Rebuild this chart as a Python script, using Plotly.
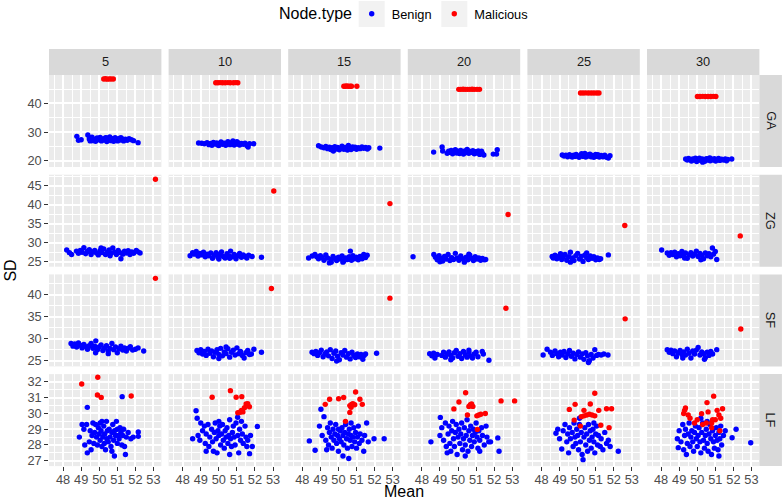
import plotly.graph_objects as go

WINDOWS = [5, 10, 15, 20, 25, 30]
METHODS = ["GA", "ZG", "SF", "LF"]
NODE_TYPES = ["Benign", "Malicious"]
X_TITLE = "Mean"
Y_TITLE = "SD"
LEGEND_TITLE = "Node.type"

# ---------------- data (Mean, SD) ----------------
GA_BENIGN = {
    5: [(48.76,28.5),(48.85,27.1),(49.0,27.3),(49.37,29.0),(49.45,27.6),(49.5,26.9),(49.6,28.2),(49.7,27.4),(49.8,26.8),(49.88,27.9),(49.95,27.3),(50.05,28.1),(50.12,26.9),(50.2,27.6),(50.28,27.2),(50.35,28.0),(50.42,26.7),(50.5,27.5),(50.58,28.3),(50.65,27.0),(50.72,27.7),(50.8,26.8),(50.88,28.0),(50.95,27.3),(51.02,26.9),(51.1,27.8),(51.18,27.2),(51.27,27.6),(51.35,26.9),(51.45,27.5),(51.55,27.1),(51.65,27.7),(51.78,27.3),(51.9,27.0),(52.15,26.3),(49.65,27.0),(50.4,27.9),(50.9,27.1),(51.2,28.0),(50.0,27.5)],
    10: [(48.88,26.2),(49.05,26.1),(49.2,25.9),(49.35,26.3),(49.45,25.6),(49.55,26.0),(49.62,25.4),(49.7,26.4),(49.8,25.8),(49.88,26.2),(49.95,25.5),(50.05,26.0),(50.12,26.5),(50.2,25.7),(50.3,26.1),(50.38,25.4),(50.45,25.9),(50.55,26.4),(50.62,25.6),(50.7,26.1),(50.78,26.9),(50.85,25.5),(50.92,26.3),(51.0,25.8),(51.08,26.2),(51.15,25.5),(51.25,26.0),(51.35,25.7),(51.45,26.1),(51.55,25.3),(51.62,24.8),(51.7,25.9),(51.93,25.9),(50.5,26.6),(50.0,25.3),(51.0,26.6)],
    15: [(48.9,25.2),(49.05,24.8),(49.2,24.5),(49.3,25.0),(49.4,24.2),(49.5,24.7),(49.58,23.9),(49.65,24.5),(49.72,23.4),(49.8,24.9),(49.88,24.1),(49.95,24.6),(50.05,23.8),(50.12,24.4),(50.2,25.1),(50.3,24.0),(50.38,24.6),(50.45,24.2),(50.55,25.3),(50.62,24.4),(50.7,23.9),(50.78,24.8),(50.85,24.3),(50.92,24.7),(51.0,24.0),(51.1,24.5),(51.2,24.2),(51.3,24.8),(51.4,24.3),(51.5,24.6),(51.6,24.1),(51.68,24.5),(52.29,24.4),(50.0,24.4),(50.5,23.7)],
    20: [(48.65,23.0),(49.12,24.8),(49.15,23.4),(49.4,22.6),(49.48,23.3),(49.55,22.9),(49.62,23.6),(49.7,22.4),(49.78,23.1),(49.85,23.8),(49.92,22.7),(50.0,23.3),(50.08,22.5),(50.15,23.6),(50.22,23.0),(50.3,22.3),(50.38,23.4),(50.45,22.8),(50.52,23.7),(50.6,22.6),(50.68,23.2),(50.75,22.9),(50.82,23.5),(50.9,22.4),(50.98,23.1),(51.05,22.7),(51.12,23.4),(51.2,22.2),(51.28,22.9),(51.35,22.5),(51.43,22.0),(51.95,22.3),(52.17,23.8),(52.13,22.3),(50.5,23.9),(51.3,23.3)],
    25: [(49.15,22.0),(49.25,21.6),(49.35,21.9),(49.45,21.4),(49.55,22.1),(49.62,21.7),(49.7,21.3),(49.78,21.9),(49.85,21.5),(49.92,22.2),(50.0,21.6),(50.08,21.2),(50.15,21.8),(50.22,22.4),(50.3,21.5),(50.38,21.9),(50.45,21.3),(50.52,22.0),(50.6,21.6),(50.68,22.3),(50.75,21.4),(50.82,21.8),(50.9,21.2),(50.98,21.9),(51.05,21.5),(51.12,22.1),(51.2,21.3),(51.3,21.8),(51.4,21.4),(51.5,21.9),(51.6,21.2),(51.7,20.9),(51.79,21.7),(50.4,22.5),(51.0,22.2)],
    30: [(49.36,20.6),(49.45,20.2),(49.52,20.8),(49.6,20.4),(49.68,19.9),(49.75,20.6),(49.82,20.2),(49.9,20.9),(49.97,19.7),(50.05,20.4),(50.12,20.9),(50.2,20.1),(50.28,20.6),(50.35,20.3),(50.42,19.8),(50.5,20.7),(50.58,20.2),(50.65,20.8),(50.72,20.0),(50.8,20.5),(50.88,20.2),(50.95,20.7),(51.02,19.9),(51.1,20.4),(51.18,20.8),(51.25,20.1),(51.35,20.5),(51.45,20.2),(51.55,20.6),(51.62,20.0),(51.68,20.4),(51.91,20.6),(50.3,19.5),(50.7,21.0)],
}
GA_MALICIOUS = {
    5: [(50.25,48.5),(50.35,48.6),(50.45,48.45),(50.55,48.55),(50.65,48.5),(50.78,48.5)],
    10: [(49.83,47.2),(49.95,47.2),(50.07,47.25),(50.2,47.2),(50.35,47.2),(50.5,47.25),(50.63,47.2),(50.81,47.2),(50.94,47.25),(51.05,47.2)],
    15: [(50.3,46.0),(50.38,46.0),(50.46,46.05),(50.55,46.0),(50.65,46.0),(50.72,46.0),(51.02,46.0)],
    20: [(50.04,44.9),(50.15,44.9),(50.28,44.95),(50.4,44.9),(50.52,44.9),(50.65,44.9),(50.78,44.95),(50.9,44.9),(51.05,44.9),(51.19,44.9)],
    25: [(50.16,43.6),(50.3,43.6),(50.45,43.65),(50.6,43.6),(50.75,43.6),(50.9,43.6),(51.05,43.6),(51.18,43.6)],
    30: [(50.01,42.4),(50.15,42.4),(50.3,42.45),(50.45,42.4),(50.6,42.4),(50.75,42.4),(50.9,42.45),(51.03,42.4)],
}
ZG_BENIGN = {
    5: [(48.2,28.1),(48.47,26.9),(48.35,27.4),(48.74,27.8),(48.85,27.2),(48.95,28.0),(49.05,27.5),(49.15,28.7),(49.25,27.1),(49.35,27.7),(49.45,28.2),(49.55,26.9),(49.65,27.6),(49.75,28.0),(49.85,27.3),(49.95,26.8),(50.05,27.9),(50.15,27.4),(50.25,28.4),(50.35,26.9),(50.45,27.6),(50.55,28.1),(50.65,27.2),(50.75,28.6),(50.85,27.5),(50.95,26.9),(51.05,28.0),(51.15,27.4),(51.2,25.8),(51.3,27.0),(51.4,27.8),(51.5,27.3),(51.6,27.9),(51.7,26.9),(51.8,27.6),(51.9,27.2),(52.05,28.0),(52.15,27.6),(52.26,27.3),(50.6,26.6),(50.1,28.6)],
    10: [(48.41,26.6),(48.55,27.4),(48.65,27.0),(48.75,27.7),(48.85,26.5),(48.95,27.2),(49.05,26.8),(49.15,27.5),(49.25,26.3),(49.35,27.0),(49.45,26.6),(49.55,27.3),(49.65,25.9),(49.75,26.8),(49.85,27.4),(49.95,26.2),(50.05,26.9),(50.15,27.6),(50.25,26.4),(50.35,26.0),(50.45,27.1),(50.55,26.5),(50.65,27.8),(50.75,26.3),(50.85,26.9),(50.95,25.8),(51.05,26.6),(51.15,27.2),(51.25,26.2),(51.35,26.8),(51.45,26.4),(51.55,26.0),(51.65,26.7),(51.84,26.4),(52.36,26.2),(50.0,25.7),(50.6,25.9)],
    15: [(48.35,26.0),(48.55,26.5),(48.7,26.9),(48.8,26.3),(48.9,25.8),(49.0,26.6),(49.1,26.1),(49.2,25.4),(49.3,26.8),(49.4,26.0),(49.5,24.7),(49.6,25.6),(49.7,26.4),(49.8,25.9),(49.9,25.3),(50.0,26.2),(50.1,25.7),(50.2,26.5),(50.3,25.2),(50.4,26.0),(50.5,25.6),(50.6,26.3),(50.66,27.8),(50.72,25.4),(50.8,26.6),(50.9,25.8),(51.0,26.2),(51.1,25.5),(51.2,26.4),(51.31,25.8),(51.4,26.9),(51.5,26.1),(51.59,26.7),(49.6,24.9),(50.25,24.9)],
    20: [(47.51,26.3),(48.66,26.9),(48.75,26.2),(48.85,25.5),(48.95,26.6),(49.05,25.9),(49.15,25.2),(49.25,26.4),(49.35,25.7),(49.45,26.9),(49.55,25.3),(49.65,26.1),(49.75,25.6),(49.85,27.2),(49.95,26.0),(50.05,25.4),(50.15,26.5),(50.25,25.8),(50.35,24.9),(50.45,26.2),(50.55,25.5),(50.65,26.7),(50.75,25.9),(50.85,25.3),(50.95,26.3),(51.05,25.7),(51.15,26.0),(51.25,25.4),(51.35,25.9),(51.45,25.5),(51.53,25.6),(49.0,25.0),(50.6,27.0)],
    25: [(48.59,26.4),(48.65,26.0),(48.75,26.7),(48.85,25.8),(48.95,26.4),(49.05,27.1),(49.12,25.6),(49.2,26.2),(49.3,26.9),(49.4,25.4),(49.5,26.3),(49.6,27.5),(49.7,26.0),(49.8,25.3),(49.9,26.6),(50.0,27.2),(50.1,25.7),(50.2,26.4),(50.3,25.1),(50.4,26.8),(50.5,26.1),(50.6,25.6),(50.7,26.5),(50.8,25.9),(50.9,26.3),(51.0,25.5),(51.1,26.0),(51.2,25.6),(51.27,25.8),(51.7,26.8),(49.6,24.9),(50.5,27.3)],
    30: [(48.03,28.1),(48.34,27.3),(48.45,26.7),(48.55,27.4),(48.65,26.9),(48.75,27.5),(48.85,26.3),(48.95,27.1),(49.05,26.6),(49.15,27.7),(49.25,26.9),(49.35,27.3),(49.45,25.9),(49.55,26.8),(49.65,27.4),(49.75,26.5),(49.85,27.0),(49.95,27.8),(50.05,26.4),(50.15,27.2),(50.25,26.7),(50.35,25.8),(50.45,27.3),(50.55,26.6),(50.65,27.1),(50.75,26.3),(50.84,28.6),(50.9,27.0),(51.0,27.7),(51.08,25.6),(49.3,26.0),(50.2,25.5)],
}
ZG_MALICIOUS = {5: [(53.11,46.7)], 10: [(53.04,43.6)], 15: [(52.85,40.3)],
                20: [(52.77,37.45)], 25: [(52.61,34.55)], 30: [(52.38,31.8)]}
SF_BENIGN = {
    5: [(48.44,28.9),(48.55,28.3),(48.65,28.8),(48.75,28.1),(48.85,29.0),(48.95,28.5),(49.05,27.9),(49.15,28.7),(49.25,28.2),(49.35,27.6),(49.45,28.4),(49.55,28.9),(49.65,27.8),(49.75,28.3),(49.81,29.5),(49.9,27.5),(50.0,28.1),(50.1,28.6),(50.2,27.3),(50.3,27.9),(50.4,28.4),(50.5,27.2),(50.6,27.8),(50.7,28.9),(50.8,27.5),(50.9,28.1),(51.0,26.8),(51.1,27.7),(51.2,28.3),(51.3,27.4),(51.4,27.9),(51.5,27.2),(51.6,27.8),(51.72,28.2),(51.85,27.4),(52.0,27.6),(52.15,27.9),(52.46,27.2),(50.5,26.6),(49.8,26.8)],
    10: [(48.79,27.3),(48.9,26.8),(49.0,27.5),(49.1,26.5),(49.2,27.1),(49.3,26.2),(49.4,27.6),(49.5,26.7),(49.6,27.2),(49.7,25.9),(49.8,26.9),(49.9,27.5),(50.0,26.4),(50.1,27.8),(50.2,26.1),(50.3,27.0),(50.4,26.6),(50.5,27.7),(50.6,25.8),(50.7,26.9),(50.8,27.4),(50.9,26.3),(51.0,27.9),(51.1,26.6),(51.2,27.1),(51.3,26.2),(51.4,25.6),(51.5,26.8),(51.6,27.3),(51.7,26.4),(51.8,26.5),(51.94,27.6),(52.36,26.9),(50.0,25.5),(50.4,28.1)],
    15: [(48.54,26.9),(48.65,26.6),(48.75,27.1),(48.85,26.2),(48.95,26.8),(49.05,27.4),(49.15,25.9),(49.25,26.5),(49.35,27.0),(49.45,26.1),(49.55,27.5),(49.65,25.5),(49.75,26.7),(49.85,27.2),(49.95,26.0),(50.05,25.2),(50.15,26.8),(50.25,26.3),(50.35,27.3),(50.45,25.8),(50.55,26.6),(50.65,25.4),(50.75,26.9),(50.85,26.2),(50.95,25.7),(51.05,26.5),(51.15,25.9),(51.25,26.4),(51.35,25.3),(51.42,26.2),(51.5,26.5),(52.11,26.7),(49.9,24.9)],
    20: [(48.43,26.6),(48.55,26.1),(48.65,26.7),(48.72,25.6),(48.85,26.4),(49.1,26.2),(49.2,26.9),(49.3,25.8),(49.4,26.5),(49.5,27.0),(49.6,26.2),(49.7,25.6),(49.8,26.8),(49.9,27.3),(50.0,26.0),(50.1,26.6),(50.2,25.5),(50.3,27.1),(50.4,26.3),(50.5,25.8),(50.6,26.9),(50.7,26.1),(50.8,25.6),(50.9,26.5),(51.0,26.9),(51.1,25.9),(51.34,27.1),(51.4,26.5),(51.71,25.1),(49.6,25.2),(50.6,27.4)],
    25: [(48.09,26.3),(48.31,27.6),(48.5,26.9),(48.6,26.2),(48.75,27.2),(48.85,26.6),(48.95,25.9),(49.05,26.9),(49.15,26.3),(49.25,27.1),(49.35,25.7),(49.45,26.5),(49.55,27.3),(49.65,26.0),(49.75,26.7),(49.85,25.4),(49.95,26.4),(50.05,27.0),(50.15,25.8),(50.25,26.5),(50.35,25.3),(50.45,26.8),(50.55,26.1),(50.65,25.0),(50.75,26.4),(50.85,25.6),(50.95,27.5),(51.05,26.2),(51.15,26.4),(51.3,26.3),(51.45,26.5),(51.68,26.3),(50.6,24.6)],
    30: [(48.34,27.5),(48.45,26.9),(48.55,27.4),(48.65,26.6),(48.75,27.2),(48.85,25.9),(48.95,26.8),(49.05,27.3),(49.15,26.4),(49.25,27.0),(49.35,26.3),(49.45,27.6),(49.55,26.7),(49.65,25.6),(49.75,27.2),(49.85,26.5),(49.95,27.4),(50.05,28.0),(50.15,26.3),(50.25,27.0),(50.35,26.6),(50.45,25.7),(50.55,26.9),(50.65,26.2),(50.75,27.1),(50.85,26.5),(51.08,27.5),(50.4,25.3),(49.2,25.6)],
}
SF_MALICIOUS = {5: [(53.11,43.7)], 10: [(52.91,41.4)], 15: [(52.85,39.2)],
                20: [(52.65,36.9)], 25: [(52.63,34.5)], 30: [(52.41,32.2)]}
LF_BENIGN = {
    5: [(48.9,28.5),(49.05,29.3),(49.15,29.0),(49.2,28.0),(49.34,30.39),(49.3,29.3),(49.34,27.5),(49.45,28.2),(49.5,28.9),(49.6,28.6),(49.65,29.4),(49.7,28.1),(49.75,28.8),(49.8,29.3),(49.85,28.5),(49.9,28.0),(49.95,29.1),(50.0,28.7),(50.05,28.3),(50.05,29.4),(50.1,28.9),(50.15,27.9),(50.2,28.5),(50.25,29.2),(50.28,28.1),(50.3,28.7),(50.35,27.7),(50.4,29.5),(50.42,28.4),(50.45,28.9),(50.5,28.2),(50.55,29.0),(50.6,28.5),(50.65,27.9),(50.7,28.8),(50.75,29.3),(50.8,28.3),(50.84,27.3),(50.85,28.9),(50.9,28.6),(50.95,29.5),(51.0,28.1),(51.0,29.0),(51.05,28.6),(51.1,28.4),(51.15,29.1),(51.2,28.8),(51.25,28.0),(51.3,28.6),(51.27,31.07),(51.35,29.0),(51.45,27.4),(51.5,28.5),(51.6,28.8),(51.75,28.4),(51.88,28.5),(52.16,28.83),(52.16,28.55),(49.55,27.7),(50.15,29.5),(50.7,27.6),(51.4,27.9)],
    10: [(48.55,28.4),(48.74,30.17),(48.8,29.7),(48.85,28.6),(48.95,28.3),(49.0,29.4),(49.1,28.9),(49.2,29.2),(49.25,28.1),(49.3,28.7),(49.4,29.3),(49.45,27.9),(49.5,28.5),(49.6,29.0),(49.65,28.2),(49.7,27.6),(49.75,28.8),(49.8,29.4),(49.85,28.4),(49.9,27.5),(49.95,28.9),(50.0,28.6),(50.05,29.2),(50.1,28.0),(50.15,28.7),(50.2,29.3),(50.25,28.3),(50.3,27.8),(50.35,28.9),(50.4,28.5),(50.45,29.1),(50.5,28.1),(50.55,28.6),(50.6,29.6),(50.65,28.4),(50.7,27.9),(50.75,28.8),(50.8,29.2),(50.85,28.5),(50.9,28.0),(50.95,29.4),(51.04,29.76),(51.05,28.6),(51.1,27.5),(51.15,29.0),(51.2,28.3),(51.25,29.5),(51.3,28.7),(51.35,28.1),(51.45,29.2),(51.5,28.5),(51.55,27.9),(51.6,28.3),(51.7,27.45),(51.75,28.6),(51.85,27.9),(52.13,29.17),(49.3,27.6),(50.6,27.4),(50.0,29.5)],
    15: [(48.39,28.26),(48.71,27.67),(49.03,30.27),(48.95,29.2),(49.1,28.6),(49.2,29.8),(49.3,28.3),(49.4,29.1),(49.45,28.0),(49.5,28.8),(49.55,29.4),(49.6,28.5),(49.65,27.8),(49.7,29.0),(49.75,28.3),(49.8,28.7),(49.85,29.3),(49.9,28.1),(49.95,28.6),(50.0,29.0),(50.0,27.6),(50.05,28.4),(50.1,28.9),(50.15,28.2),(50.2,29.1),(50.25,28.6),(50.3,28.0),(50.35,28.8),(50.4,29.3),(50.45,28.4),(50.5,27.8),(50.55,28.7),(50.57,27.14),(50.6,29.0),(50.65,28.3),(50.7,28.6),(50.75,27.9),(50.8,28.5),(50.85,29.1),(50.9,28.2),(50.95,28.8),(51.0,27.8),(51.05,28.5),(51.1,29.2),(51.15,28.1),(51.2,28.7),(51.3,28.3),(51.4,27.6),(51.45,28.6),(51.56,29.4),(51.65,28.2),(51.97,28.4),(52.53,28.4),(49.35,27.7),(50.25,27.3),(50.7,29.4)],
    20: [(48.5,28.2),(49.02,29.75),(49.0,28.6),(49.1,29.1),(49.2,28.3),(49.3,29.4),(49.35,27.9),(49.45,28.7),(49.5,29.2),(49.55,28.1),(49.6,27.6),(49.65,28.9),(49.7,29.5),(49.75,28.4),(49.8,27.9),(49.85,28.8),(49.9,29.3),(49.95,27.4),(50.0,28.5),(50.05,29.0),(50.1,28.1),(50.15,28.7),(50.2,29.4),(50.25,27.7),(50.3,28.4),(50.35,29.1),(50.4,28.0),(50.45,28.6),(50.5,29.6),(50.55,27.6),(50.6,28.9),(50.65,28.3),(50.7,29.2),(50.75,27.9),(50.8,28.6),(50.85,29.0),(50.9,28.2),(50.95,28.8),(51.0,29.4),(51.05,28.5),(51.1,27.8),(51.15,28.9),(51.2,28.3),(51.3,29.1),(51.35,28.6),(51.45,28.0),(51.55,29.2),(51.6,28.5),(51.7,28.2),(51.8,28.2),(52.2,28.45),(52.27,27.6),(49.4,27.5),(50.4,27.3),(51.2,27.6)],
    25: [(48.8,28.75),(48.9,29.0),(49.0,28.4),(49.12,27.75),(49.2,28.9),(49.3,29.3),(49.4,28.2),(49.45,28.7),(49.5,27.5),(49.55,29.1),(49.6,28.4),(49.7,28.8),(49.75,27.9),(49.8,29.4),(49.85,28.5),(49.9,28.1),(49.95,29.0),(50.0,28.6),(50.05,27.7),(50.1,29.3),(50.15,28.2),(50.2,28.8),(50.25,27.4),(50.3,27.07),(50.35,28.5),(50.4,29.1),(50.45,28.0),(50.5,28.7),(50.55,27.6),(50.6,29.3),(50.65,28.3),(50.7,28.9),(50.75,27.8),(50.8,28.5),(50.85,29.0),(50.9,28.2),(50.95,27.5),(51.0,28.7),(51.05,29.2),(51.1,28.0),(51.15,28.6),(51.25,27.9),(51.3,28.4),(51.4,27.7),(51.5,28.8),(51.6,28.1),(51.7,28.3),(51.8,27.9),(52.25,27.6),(50.1,29.7),(50.9,29.4)],
    30: [(48.95,27.83),(48.9,28.4),(49.0,28.9),(49.1,28.2),(49.2,29.3),(49.25,27.7),(49.3,28.6),(49.35,29.0),(49.45,28.1),(49.5,28.7),(49.55,29.4),(49.6,27.9),(49.65,28.5),(49.7,28.9),(49.75,28.2),(49.8,27.6),(49.85,28.8),(49.9,29.2),(49.95,28.4),(50.0,27.9),(50.05,28.6),(50.1,29.1),(50.15,28.2),(50.2,27.5),(50.25,28.8),(50.3,29.4),(50.35,28.3),(50.4,27.8),(50.45,28.6),(50.5,29.0),(50.55,28.1),(50.6,27.6),(50.65,28.7),(50.7,29.3),(50.75,28.4),(50.79,27.4),(50.85,28.9),(50.9,28.2),(50.95,27.8),(51.0,28.6),(51.05,29.1),(51.1,28.3),(51.15,27.7),(51.2,28.8),(51.25,28.4),(51.3,29.2),(51.35,28.0),(51.45,28.6),(51.55,28.9),(51.93,28.46),(52.15,29.0),(52.96,28.14),(49.4,27.4),(50.2,29.7),(50.55,29.5),(51.2,27.3)],
}
LF_MALICIOUS = {
    5: [(49.03,31.87),(49.92,32.3),(49.9,31.17),(50.11,31.02),(51.77,31.11)],
    10: [(49.63,31.03),(50.64,31.45),(50.96,31.03),(51.27,31.07),(51.05,30.05),(51.18,30.08),(51.33,30.1),(51.42,30.37),(51.51,30.6),(51.6,30.62),(51.69,30.43),(51.25,30.2)],
    15: [(49.27,30.58),(49.51,30.9),(50.01,30.94),(50.29,31.01),(50.39,29.5),(50.63,30.07),(50.63,30.5),(50.72,30.58),(50.8,30.62),(50.9,30.55),(50.95,31.36),(51.19,30.9),(51.32,30.58),(50.7,30.4)],
    20: [(50.42,31.32),(50.05,30.73),(49.77,30.29),(50.6,30.45),(50.68,30.55),(50.75,30.6),(50.82,30.45),(50.52,29.9),(51.04,29.85),(51.26,29.95),(51.51,30.0),(51.07,28.99),(52.38,30.8),(53.13,30.8),(51.15,29.9)],
    25: [(50.95,31.28),(49.86,30.58),(49.54,30.26),(49.81,29.58),(50.2,29.8),(50.35,29.85),(50.5,29.9),(50.65,29.95),(50.8,29.9),(50.95,29.85),(50.35,30.2),(50.7,30.6),(51.17,30.2),(51.6,30.3),(51.88,30.3),(51.74,29.1),(51.28,29.25),(50.15,29.2)],
    30: [(50.91,31.1),(50.54,30.69),(49.3,30.2),(49.25,30.0),(49.35,30.35),(49.5,29.9),(49.6,29.7),(49.85,29.4),(50.24,29.99),(50.5,29.4),(50.8,29.4),(50.85,29.6),(51.0,29.6),(51.1,30.2),(51.2,29.9),(51.3,29.7),(50.8,29.1),(51.25,28.9),(50.0,29.6),(50.6,30.1),(51.4,30.3),(50.3,29.3)],
}

DATA = {
    "GA": {"Benign": GA_BENIGN, "Malicious": GA_MALICIOUS},
    "ZG": {"Benign": ZG_BENIGN, "Malicious": ZG_MALICIOUS},
    "SF": {"Benign": SF_BENIGN, "Malicious": SF_MALICIOUS},
    "LF": {"Benign": LF_BENIGN, "Malicious": LF_MALICIOUS},
}

# ---------------- styling / layout configuration ----------------
COLORS = {"Benign": "#0000FF", "Malicious": "#FF0000"}
X_RANGE = [47.22, 53.44]
Y_RANGE = {"GA": [17.8, 49.9], "ZG": [23.7, 47.9], "SF": [23.7, 44.6], "LF": [26.66, 32.5]}
Y_DTICK = {"GA": 10, "ZG": 5, "SF": 5, "LF": 1}

W, H = 782, 501
FONT = "Liberation Sans, Arial, sans-serif"
SMALL, BIG = 12.8, 16.0
PANEL_LEFT0, PANEL_PITCH_X, PANEL_W = 49.0, 119.6, 112.4
PANEL_TOP0, PANEL_PITCH_Y, PANEL_H = 75.0, 99.7, 92.0
STRIP_TOP = 49.0
STRIP_RIGHT_W = 22.5
GRID_MAJOR_W, GRID_MINOR_W = 1.9, 0.95
# legend geometry (px)
LEG_TITLE_X, LEG_CY = 277.0, 14.0
LEG_KEY_CX = [371.7, 454.3]
LEG_KEY_SIZE = 26.0
LEG_FIRST_WIDTH = LEG_KEY_CX[1] - LEG_KEY_CX[0] - 45


def fx(p):
    return p / W


def fy(p):
    return 1 - p / H


fig = go.Figure()
layout = dict(
    width=W, height=H, margin=dict(l=0, r=0, t=0, b=0, pad=0, autoexpand=False),
    paper_bgcolor="white", plot_bgcolor="#EBEBEB",
    font=dict(family=FONT, color="#1A1A1A"),
    showlegend=True,
)
shapes, annotations = [], []
shown = set()

for r, method in enumerate(METHODS):
    top = PANEL_TOP0 + r * PANEL_PITCH_Y
    bot = top + PANEL_H
    for c, win in enumerate(WINDOWS):
        idx = r * len(WINDOWS) + c + 1
        left = PANEL_LEFT0 + c * PANEL_PITCH_X
        right = left + PANEL_W
        xa = "xaxis" if idx == 1 else f"xaxis{idx}"
        ya = "yaxis" if idx == 1 else f"yaxis{idx}"
        xref = "x" if idx == 1 else f"x{idx}"
        yref = "y" if idx == 1 else f"y{idx}"
        bottom_row = r == len(METHODS) - 1
        left_col = c == 0
        layout[xa] = dict(
            domain=[fx(left), fx(right)], anchor=yref, range=X_RANGE,
            tickmode="linear", tick0=0, dtick=1,
            showgrid=True, gridcolor="white", gridwidth=GRID_MAJOR_W,
            minor=dict(dtick=0.5, tick0=0, showgrid=True, gridcolor="white", gridwidth=GRID_MINOR_W),
            zeroline=False, showline=False,
            showticklabels=bottom_row,
            ticks="outside" if bottom_row else "", ticklen=3.7, tickwidth=1, tickcolor="#333333",
            ticklabelstandoff=-2,
            tickfont=dict(family=FONT, size=SMALL, color="#4D4D4D"),
        )
        layout[ya] = dict(
            domain=[fy(bot), fy(top)], anchor=xref, range=Y_RANGE[method],
            tickmode="linear", tick0=0, dtick=Y_DTICK[method],
            showgrid=True, gridcolor="white", gridwidth=GRID_MAJOR_W,
            minor=dict(dtick=Y_DTICK[method] / 2, tick0=0, showgrid=True, gridcolor="white", gridwidth=GRID_MINOR_W),
            zeroline=False, showline=False,
            showticklabels=left_col,
            ticks="outside" if left_col else "", ticklen=3.7, tickwidth=1, tickcolor="#333333",
            tickfont=dict(family=FONT, size=SMALL, color="#4D4D4D"),
        )
        for nt in NODE_TYPES:
            pts = DATA[method][nt][win]
            kw = dict(legendwidth=LEG_FIRST_WIDTH) if nt == NODE_TYPES[0] else {}
            fig.add_trace(go.Scatter(
                x=[p[0] for p in pts], y=[p[1] for p in pts],
                mode="markers", name=nt, legendgroup=nt,
                showlegend=nt not in shown,
                marker=dict(color=COLORS[nt], size=5.4, line=dict(width=0)),
                xaxis=xref, yaxis=yref, **kw,
            ))
            shown.add(nt)
        # top strip
        if r == 0:
            shapes.append(dict(type="rect", xref="paper", yref="paper",
                               x0=fx(left), x1=fx(right), y0=fy(top), y1=fy(STRIP_TOP),
                               fillcolor="#D9D9D9", line=dict(width=0), layer="below"))
            annotations.append(dict(text=str(win), xref="paper", yref="paper",
                                    x=fx((left + right) / 2), y=fy((STRIP_TOP + top) / 2),
                                    showarrow=False, xanchor="center", yanchor="middle",
                                    font=dict(family=FONT, size=SMALL, color="#1A1A1A")))
    # right strip
    sx0 = PANEL_LEFT0 + (len(WINDOWS) - 1) * PANEL_PITCH_X + PANEL_W
    shapes.append(dict(type="rect", xref="paper", yref="paper",
                       x0=fx(sx0), x1=fx(sx0 + STRIP_RIGHT_W), y0=fy(bot), y1=fy(top),
                       fillcolor="#D9D9D9", line=dict(width=0), layer="below"))
    annotations.append(dict(text=method, xref="paper", yref="paper",
                            x=fx(sx0 + STRIP_RIGHT_W / 2), y=fy((top + bot) / 2),
                            showarrow=False, textangle=90, xanchor="center", yanchor="middle",
                            font=dict(family=FONT, size=SMALL, color="#1A1A1A")))

# axis titles
panels_left = PANEL_LEFT0
panels_right = PANEL_LEFT0 + (len(WINDOWS) - 1) * PANEL_PITCH_X + PANEL_W
panels_bottom = PANEL_TOP0 + (len(METHODS) - 1) * PANEL_PITCH_Y + PANEL_H
annotations.append(dict(text=X_TITLE, xref="paper", yref="paper",
                        x=fx((panels_left + panels_right) / 2), y=fy(501),
                        showarrow=False, xanchor="center", yanchor="bottom", borderpad=0,
                        font=dict(family=FONT, size=BIG, color="black")))
annotations.append(dict(text=Y_TITLE, xref="paper", yref="paper",
                        x=fx(11), y=fy((PANEL_TOP0 + panels_bottom) / 2),
                        showarrow=False, textangle=-90, xanchor="center", yanchor="middle",
                        font=dict(family=FONT, size=BIG, color="black")))

# legend title and key backgrounds
annotations.append(dict(text=LEGEND_TITLE, xref="paper", yref="paper",
                        x=fx(LEG_TITLE_X), y=fy(LEG_CY), showarrow=False,
                        xanchor="left", yanchor="middle",
                        font=dict(family=FONT, size=BIG, color="black")))
for cx in LEG_KEY_CX:
    shapes.append(dict(type="rect", xref="paper", yref="paper",
                       x0=fx(cx - LEG_KEY_SIZE / 2), x1=fx(cx + LEG_KEY_SIZE / 2),
                       y0=fy(LEG_CY + LEG_KEY_SIZE / 2), y1=fy(LEG_CY - LEG_KEY_SIZE / 2),
                       fillcolor="#F2F2F2", line=dict(width=0), layer="below"))

layout["shapes"] = shapes
layout["annotations"] = annotations
layout["legend"] = dict(
    orientation="h", x=fx(LEG_KEY_CX[0] - 20), xanchor="left",
    y=fy(LEG_CY), yanchor="middle",
    bgcolor="rgba(0,0,0,0)", borderwidth=0,
    font=dict(family=FONT, size=SMALL, color="black"),
)
fig.update_layout(**layout)
fig.write_html("out.html", config={"displayModeBar": False},
               post_script="document.body.style.margin='0px';document.body.style.padding='0px';")
